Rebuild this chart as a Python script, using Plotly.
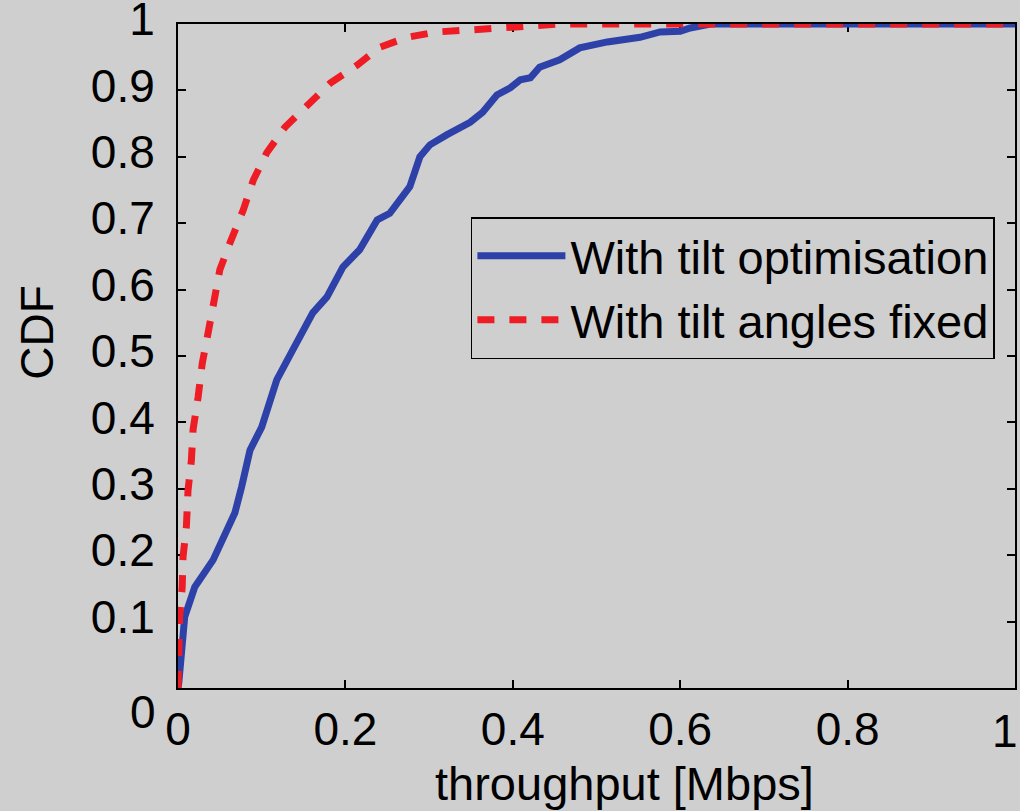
import plotly.graph_objects as go

# With tilt optimisation (blue, solid)
opt_x = [0.0, 0.001, 0.008, 0.020, 0.042, 0.068, 0.076, 0.086, 0.100, 0.118, 0.137,
         0.161, 0.178, 0.197, 0.217, 0.238, 0.253, 0.269, 0.277, 0.289, 0.301, 0.321,
         0.349, 0.364, 0.381, 0.397, 0.409, 0.421, 0.432, 0.456, 0.480, 0.513, 0.552,
         0.576, 0.600, 0.612, 0.636, 1.0]
opt_y = [0.0, 0.008, 0.107, 0.152, 0.193, 0.264, 0.303, 0.358, 0.393, 0.464, 0.509,
         0.565, 0.589, 0.634, 0.660, 0.705, 0.715, 0.740, 0.755, 0.800, 0.818, 0.833,
         0.852, 0.867, 0.893, 0.904, 0.916, 0.919, 0.935, 0.946, 0.964, 0.973, 0.980,
         0.988, 0.989, 0.994, 1.0, 1.0]

# With tilt angles fixed (red, dashed)
fix_x = [0.0, 0.001, 0.002, 0.005, 0.006, 0.010, 0.012, 0.016, 0.018, 0.024, 0.029,
         0.036, 0.041, 0.050, 0.062, 0.078, 0.090, 0.106, 0.128, 0.154, 0.182, 0.214,
         0.241, 0.274, 0.309, 0.349, 0.385, 0.430, 0.456, 1.0]
fix_y = [0.0, 0.057, 0.107, 0.152, 0.197, 0.243, 0.298, 0.343, 0.389, 0.438, 0.489,
         0.535, 0.574, 0.630, 0.670, 0.720, 0.765, 0.806, 0.845, 0.878, 0.911, 0.938,
         0.965, 0.980, 0.988, 0.991, 0.994, 0.998, 1.0, 1.0]

x_ticks = [0, 0.2, 0.4, 0.6, 0.8, 1]
x_ticktext = ["0", "0.2", "0.4", "0.6", "0.8", ""]
y_ticks = [0, 0.1, 0.2, 0.3, 0.4, 0.5, 0.6, 0.7, 0.8, 0.9, 1]
y_ticktext = ["", "0.1", "0.2", "0.3", "0.4", "0.5", "0.6", "0.7", "0.8", "0.9", "1"]

BG = "#cfcfcf"
FONT = "Liberation Sans, Arial, sans-serif"

fig = go.Figure()
fig.add_trace(go.Scatter(x=opt_x, y=opt_y, mode="lines", name="With tilt optimisation",
                         cliponaxis=False,
                         line=dict(color="#2d41a8", width=7)))
fig.add_trace(go.Scatter(x=fix_x, y=fix_y, mode="lines", name="With tilt angles fixed",
                         cliponaxis=False,
                         line=dict(color="#ee1c24", width=7, dash="17px,15px")))

axis_common = dict(showline=True, linecolor="black", linewidth=2, mirror="ticks",
                   ticks="inside", ticklen=8, tickwidth=1.5, tickcolor="black",
                   showgrid=False, zeroline=False, layer="below traces",
                   ticklabeloverflow="allow", automargin=False,
                   tickfont=dict(family=FONT, size=46, color="black"))

fig.update_xaxes(range=[0, 1], tickvals=x_ticks, ticktext=x_ticktext,
                 ticklabelstandoff=0, **axis_common)
fig.update_yaxes(range=[0, 1], tickvals=y_ticks, ticktext=y_ticktext,
                 ticklabelstandoff=12, ticklabelshift=-5, **axis_common)

# y-axis "0" label (sits lower than its tick, as in the original)
fig.add_annotation(text="0", xref="paper", yref="y", x=0, y=0, xanchor="right",
                   yanchor="middle", xshift=-20, yshift=-24, showarrow=False,
                   font=dict(family=FONT, size=46, color="black"))
# x-axis "1" label (pulled in from the right edge, as in the original)
fig.add_annotation(text="1", xref="x", yref="paper", x=x_ticks[-1], y=0, xanchor="center",
                   yanchor="middle", xshift=-10, yshift=-43, showarrow=False,
                   font=dict(family=FONT, size=46, color="black"))
# axis titles
fig.add_annotation(text="throughput [Mbps]", xref="paper", yref="paper", x=0.534, y=0,
                   xanchor="center", yanchor="top", yshift=-67, showarrow=False,
                   font=dict(family=FONT, size=47, color="black"))
fig.add_annotation(text="CDF", xref="paper", yref="paper", x=0, y=0.535, textangle=-90,
                   xanchor="center", yanchor="middle", xshift=-141, showarrow=False,
                   font=dict(family=FONT, size=46, color="black"))

fig.update_layout(
    width=1020, height=811,
    margin=dict(l=178, r=5, t=24, b=123, autoexpand=False),
    paper_bgcolor=BG, plot_bgcolor=BG,
    font=dict(family=FONT, size=46, color="black"),
    showlegend=True,
    legend=dict(x=0.976, y=0.709, xanchor="right", yanchor="top",
                bgcolor=BG, bordercolor="black", borderwidth=1.5,
                font=dict(family=FONT, size=47, color="black"),
                itemwidth=88, tracegroupgap=0,
                entrywidthmode="pixels", entrywidth=530),
)

fig.write_html("out.html")
